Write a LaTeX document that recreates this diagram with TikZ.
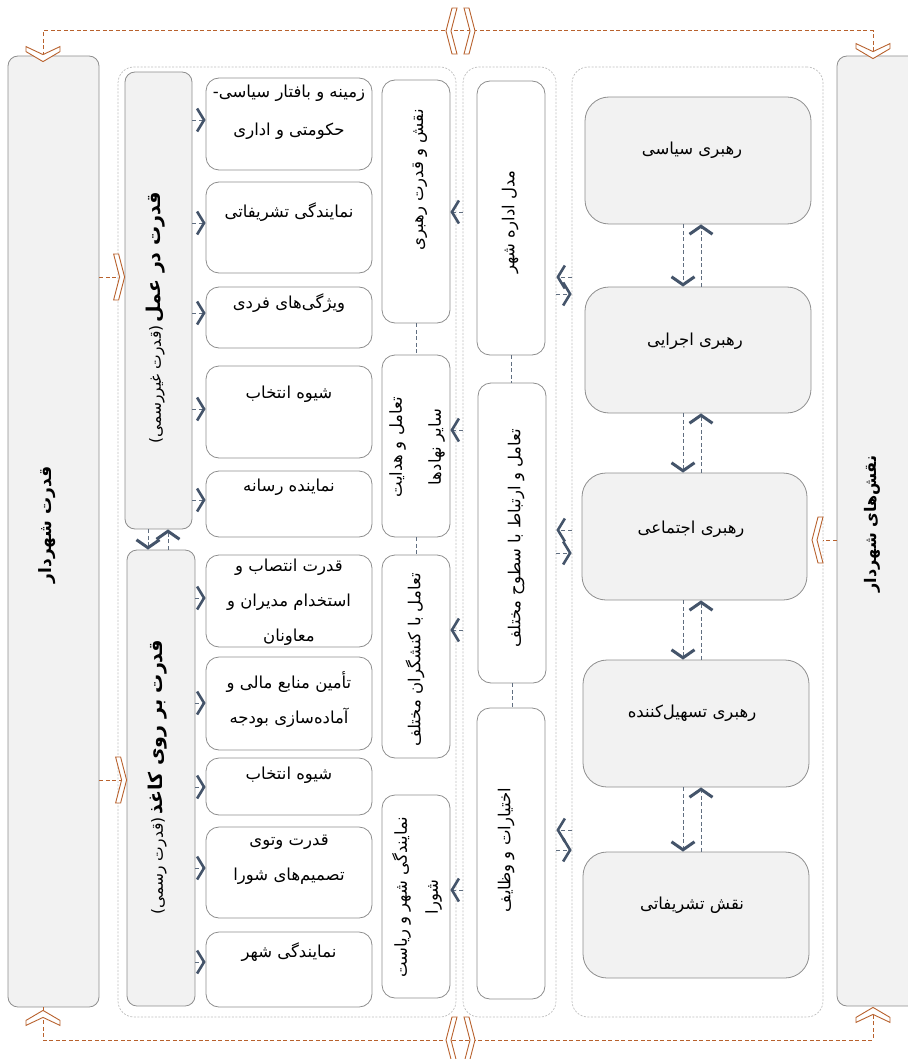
\documentclass[tikz,border=0pt]{standalone}
\usepackage{fontspec}
\newfontfamily\arabicfont[Script=Arabic]{DejaVu Sans}
\TeXXeTstate=1
\usetikzlibrary{arrows.meta,fit}
\newcommand\fa[1]{\beginR#1\endR}
\definecolor{boxgray}{HTML}{F2F2F2}
\definecolor{edgegray}{HTML}{8E8E8E}
\definecolor{contgray}{HTML}{BDBDBD}
\definecolor{slate}{HTML}{44546A}
\definecolor{rustc}{HTML}{B8612D}
\tikzset{
 grayb/.style={draw=edgegray, fill=boxgray, line width=0.8pt, rounded corners=10pt, inner sep=0pt},
 roleb/.style={grayb, rounded corners=24pt},
 whiteb/.style={draw=edgegray, fill=white, line width=0.8pt, rounded corners=13pt, inner sep=0pt},
 contb/.style={draw=contgray, dash pattern=on 2pt off 1.5pt, line width=0.7pt, rounded corners=16pt, inner sep=0pt},
 lnk/.style={draw=slate!85, dash pattern=on 4pt off 2.5pt, line width=0.7pt},
 arr/.style={lnk, -{Straight Barb[width=23pt,length=7pt,line width=2.6pt,color=slate]}},
 varr/.style={lnk, -{Straight Barb[width=23pt,length=8pt,line width=3pt,color=slate]}},
 rust/.style={draw=rustc, dash pattern=on 4pt off 2.5pt, line width=1pt},
 txt/.style={font=\arabicfont\fontsize{16.5}{35}\selectfont, align=center, inner sep=0pt},
 rtxt/.style={txt, rotate=90},
 btxt/.style={font=\arabicfont\bfseries\fontsize{17}{20}\selectfont, inner sep=0pt, rotate=90},
 ochevh/.pic={\draw[rustc, line width=0.9pt, fill=white, line join=miter] (-6,-23) -- (0,0) -- (-6,23) -- (-11,23) -- (-5,0) -- (-11,-23) -- cycle;},
 ochevv/.pic={\draw[rustc, line width=0.9pt, fill=white, line join=miter] (-17,-10) -- (0,0) -- (17,-10) -- (17,-15) -- (0,-7) -- (-17,-15) -- cycle;}
}
\begin{document}
\begin{tikzpicture}[x=1pt,y=-1pt]
\useasboundingbox (0,0) rectangle (907,1059);
% containers
\node[contb, fit={(118,67)(456,1017)}] (C1) {};
\node[contb, fit={(463,67)(556,1017)}] (C2) {};
\node[contb, fit={(572,67)(823,1017)}] (C3) {};
% outer boxes
\node[grayb, fit={(8,56)(99,1007)}] (L) {};
\node[grayb, fit={(837,56)(940,1006)}] (R) {};
\node[btxt] (tL) at (47,525) {\fa{قدرت شهردار}};
\node[btxt, font=\arabicfont\bfseries\fontsize{16}{18}\selectfont] (tR) at (872,524) {\fa{نقش^^^^200cهای شهردار}};
% power boxes
\node[grayb, fit={(125,72)(192,529)}] (B1) {};
\node[grayb, fit={(127,550)(195,1006)}] (B2) {};
\node[rotate=90, inner sep=0pt] (tB1) at (156,318) {\arabicfont\fa{{\bfseries\fontsize{19}{22}\selectfont قدرت در عمل} {\fontsize{15.5}{18}\selectfont (قدرت غیررسمی)}}};
\node[rotate=90, inner sep=0pt] (tB2) at (158,777) {\arabicfont\fa{{\bfseries\fontsize{19}{22}\selectfont قدرت بر روی کاغذ} {\fontsize{15.5}{18}\selectfont (قدرت رسمی)}}};
% detail boxes
\node[whiteb, fit={(206,78)(372,170)}] (a) {};
\node[whiteb, fit={(206,182)(372,273)}] (b) {};
\node[whiteb, fit={(206,287)(372,348)}] (c) {};
\node[whiteb, fit={(206,366)(372,458)}] (d) {};
\node[whiteb, fit={(206,471)(372,537)}] (e) {};
\node[whiteb, fit={(206,555)(372,647)}] (f) {};
\node[whiteb, fit={(206,657)(372,750)}] (g) {};
\node[whiteb, fit={(206,758)(372,815)}] (h) {};
\node[whiteb, fit={(206,827)(372,918)}] (i) {};
\node[whiteb, fit={(206,932)(372,1007)}] (j) {};
\node[txt, font=\arabicfont\fontsize{16.5}{38}\selectfont] (ta) at (289,112) {\fa{زمینه و بافتار سیاسی-}\\\fa{حکومتی و اداری}};
\node[txt] (tb) at (289,212) {\fa{نمایندگی تشریفاتی}};
\node[txt] (tc) at (289,303) {\fa{ویژگی^^^^200cهای فردی}};
\node[txt] (td) at (289,394) {\fa{شیوه انتخاب}};
\node[txt] (te) at (289,487) {\fa{نماینده رسانه}};
\node[txt] (tf) at (289,602) {\fa{قدرت انتصاب و}\\\fa{استخدام مدیران و}\\\fa{معاونان}};
\node[txt] (tg) at (289,700) {\fa{تأمین منابع مالی و}\\\fa{آماده^^^^200cسازی بودجه}};
\node[txt] (th) at (289,775) {\fa{شیوه انتخاب}};
\node[txt] (ti) at (289,860) {\fa{قدرت وتوی}\\\fa{تصمیم^^^^200cهای شورا}};
\node[txt] (tj) at (289,952) {\fa{نمایندگی شهر}};
% leadership columns
\node[whiteb, fit={(382,80)(450,323)}] (k) {};
\node[whiteb, fit={(382,355)(450,537)}] (l) {};
\node[whiteb, fit={(382,555)(450,758)}] (m) {};
\node[whiteb, fit={(382,795)(450,998)}] (n) {};
\node[rtxt] (tk) at (420,180) {\fa{نقش و قدرت رهبری}};
\node[rtxt, font=\arabicfont\fontsize{16.5}{39}\selectfont] (tl) at (417,447) {\fa{تعامل و هدایت}\\\fa{سایر نهادها}};
\node[rtxt] (tm) at (415,660) {\fa{تعامل با کنشگران مختلف}};
\node[rtxt, font=\arabicfont\fontsize{16.5}{31}\selectfont] (tn) at (417,897) {\fa{نمایندگی شهر و ریاست}\\\fa{شورا}};
% management columns
\node[whiteb, fit={(477,81)(545,355)}] (o) {};
\node[whiteb, fit={(478,383)(546,683)}] (p) {};
\node[whiteb, fit={(477,708)(545,999)}] (q) {};
\node[rtxt] (to) at (510,222) {\fa{مدل اداره شهر}};
\node[rtxt] (tp) at (516,538) {\fa{تعامل و ارتباط با سطوح مختلف}};
\node[rtxt] (tq) at (506,850) {\fa{اختیارات و وظایف}};
% roles
\node[roleb, fit={(585,97)(811,224)}] (r1) {};
\node[roleb, fit={(585,287)(811,413)}] (r2) {};
\node[roleb, fit={(582,473)(807,600)}] (r3) {};
\node[roleb, fit={(583,660)(809,787)}] (r4) {};
\node[roleb, fit={(583,852)(809,978)}] (r5) {};
\node[txt] (t1) at (692,150) {\fa{رهبری سیاسی}};
\node[txt] (t2) at (695,341) {\fa{رهبری اجرایی}};
\node[txt] (t3) at (691,529) {\fa{رهبری اجتماعی}};
\node[txt] (t4) at (692,713) {\fa{رهبری تسهیل^^^^200cکننده}};
\node[txt] (t5) at (692,905) {\fa{نقش تشریفاتی}};
% coordinates
\coordinate (xl) at (43,0);
\coordinate (xr) at (873,0);
\coordinate (ytop) at (0,31);
\coordinate (ybot) at (0,1040);
\coordinate (xd) at (683,0);
\coordinate (xu) at (701,0);
\coordinate (xbd) at (148,0);
\coordinate (xbu) at (168,0);
% blue connectors: detail boxes
\foreach \n/\yy/\s in {a/120/B1,b/223/B1,c/313/B1,d/409/B1,e/500/B1,f/598/B2,g/703/B2,h/787/B2,i/868/B2,j/962/B2}
  \draw[arr] (\s.east |- 0,\yy) -- (\n.west |- 0,\yy);
% to leadership columns
\foreach \n/\yy in {k/212,l/430,m/630,n/890}
  \draw[arr] (C2.west |- 0,\yy) -- (\n.east |- 0,\yy);
% between containers
\foreach \ya/\yb in {277/294,530/553,830/850}{
  \draw[arr] (C3.west |- 0,\ya) -- (C2.east |- 0,\ya);
  \draw[arr] (C2.east |- 0,\yb) -- (C3.west |- 0,\yb);
}
% plain dashed links
\draw[lnk] (k.south) -- (k.south |- l.north);
\draw[lnk] (l.south) -- (l.south |- m.north);
\draw[lnk] (o.south) -- (o.south |- p.north);
\draw[lnk] (p.south) -- (p.south |- q.north);
% role chain
\foreach \u/\w in {r1/r2,r2/r3,r3/r4,r4/r5}{
  \draw[varr] (\u.south -| xd) -- (\w.north -| xd);
  \draw[varr] (\w.north -| xu) -- (\u.south -| xu);
}
\draw[varr] (B1.south -| xbd) -- (B2.north -| xbd);
\draw[varr] (B2.north -| xbu) -- (B1.south -| xbu);
% rust connectors
\draw[rust] (L.north -| xl) -- (xl |- ytop) -- (xr |- ytop) -- (R.north -| xr);
\draw[rust] (L.south -| xl) -- (xl |- ybot) -- (xr |- ybot) -- (R.south -| xr);
\draw[rust] (L.east |- 0,277) -- (B1.west |- 0,277);
\draw[rust] (L.east |- 0,780) -- (B2.west |- 0,780);
\draw[rust] (R.west |- 0,540) -- (C3.east |- 0,540);
\pic at ([yshift=-6pt]L.north -| xl) {ochevv};
\pic at ([yshift=-3pt]R.north -| xr) {ochevv};
\pic[rotate=180] at ([yshift=-3pt]L.south -| xl) {ochevv};
\pic[rotate=180] at ([yshift=-1pt]R.south -| xr) {ochevv};
\pic at (B1.west |- 0,277) {ochevh};
\pic at (B2.west |- 0,780) {ochevh};
\pic[rotate=180] at (812,540) {ochevh};
\pic[rotate=180] at (446,31) {ochevh};
\pic at (475,31) {ochevh};
\pic[rotate=180] at (446,1040) {ochevh};
\pic at (475,1040) {ochevh};
\end{tikzpicture}
\end{document}
